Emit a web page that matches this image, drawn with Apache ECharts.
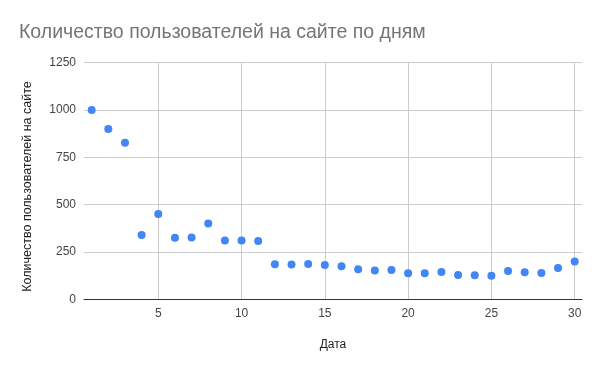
<!DOCTYPE html>
<html><head><meta charset="utf-8">
<script src="https://cdn.jsdelivr.net/npm/echarts@6/dist/echarts.min.js"></script>
<style>html,body{margin:0;padding:0;background:#fff}#c{width:600px;height:371px}</style>
</head><body><div id="c"></div>
<script>
const days = [1,2,3,4,5,6,7,8,9,10,11,12,13,14,15,16,17,18,19,20,21,22,23,24,25,26,27,28,29,30];
const users = [1000,900,827,340,450,325,327,400,310,310,308,185,184,187,181,174,159,152,155,137,137,144,128,127,125,150,143,139,165,200];
const xTicks = [5,10,15,20,25,30];
const yTicks = [0,250,500,750,1000,1250];
const titleText = 'Количество пользователей на сайте по дням';
const xName = 'Дата';
const yName = 'Количество пользователей на сайте';
const FONT = '"Liberation Sans", Arial, sans-serif';

const chart = echarts.init(document.getElementById('c'), null, {renderer:'canvas'});
chart.setOption({
  animation:false,
  backgroundColor:'#fff',
  title:{text:titleText,left:14,top:18,textStyle:{fontFamily:FONT,fontSize:19.5,fontWeight:'normal',color:'#757575'}},
  grid:{left:84,right:18,top:62.7,bottom:71.7,containLabel:false},
  xAxis:{type:'value',min:0.54,max:30.44,
    name:xName,nameLocation:'middle',nameGap:39,
    nameTextStyle:{fontFamily:FONT,fontSize:12,color:'#222'},
    axisLine:{show:true,lineStyle:{color:'#333',width:1}},
    axisTick:{show:false,customValues:xTicks},
    axisLabel:{customValues:xTicks,fontFamily:FONT,fontSize:12,color:'#444',margin:8},
    splitLine:{show:true,lineStyle:{color:'#ccc',width:1}}
  },
  yAxis:{type:'value',min:yTicks[0],max:yTicks[yTicks.length-1],interval:250,
    name:yName,nameLocation:'middle',nameGap:50,
    nameTextStyle:{fontFamily:FONT,fontSize:12.5,color:'#222',padding:[0,11,0,0]},
    axisLine:{show:false},axisTick:{show:false},
    axisLabel:{formatter:v=>String(v),fontFamily:FONT,fontSize:12,color:'#444',margin:8},
    splitLine:{show:true,lineStyle:{color:'#ccc',width:1}}
  },
  series:[{type:'scatter',data:days.map((d,i)=>[d,users[i]]),symbolSize:8,itemStyle:{color:'#4285f4',opacity:1}}]
});
</script></body></html>
